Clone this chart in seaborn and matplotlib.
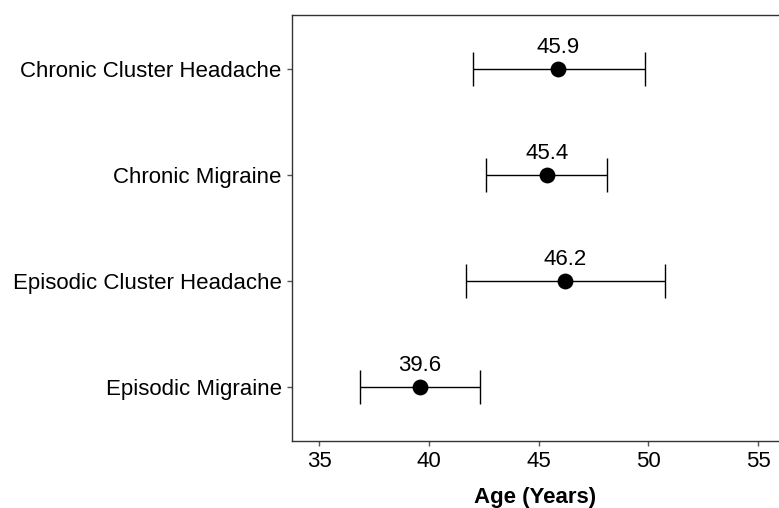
import matplotlib
matplotlib.use("Agg")
import matplotlib.pyplot as plt
import seaborn as sns
import pandas as pd

# Mean age with confidence interval per headache group
groups = ["Chronic Cluster Headache", "Chronic Migraine",
          "Episodic Cluster Headache", "Episodic Migraine"]
mean_age = [45.9, 45.4, 46.2, 39.6]
ci_low = [42.03, 42.59, 41.68, 36.87]
ci_high = [49.85, 48.11, 50.76, 42.31]
x_ticks = [35, 40, 45, 50, 55]

df = pd.DataFrame({"group": groups, "age": mean_age,
                   "low": ci_low, "high": ci_high})

sns.set_style("white")
plt.rcParams["font.family"] = ["Liberation Sans", "DejaVu Sans"]

fig = plt.figure(figsize=(7.79, 5.08), dpi=100)
ax = fig.add_axes([292 / 779, 1 - 440.7 / 508, 1 - 292 / 779, (440.7 - 15) / 508])

ypos = list(range(len(groups)))
ax.errorbar(df["age"], ypos,
            xerr=[df["age"] - df["low"], df["high"] - df["age"]],
            fmt="none", ecolor="black", elinewidth=1.0, capsize=12,
            capthick=1.0, zorder=2)
sns.scatterplot(data=df, x="age", y=ypos, ax=ax, color="black",
                s=130, edgecolor="black", linewidth=0, zorder=3, legend=False)

for yi, v in zip(ypos, mean_age):
    ax.annotate(f"{v:.1f}", (v, yi), xytext=(0, 11.5), textcoords="offset points",
                ha="center", va="baseline", fontsize=16, color="black")

ax.set_xlim(33.76, 55.96)
ax.set_ylim(3.51, -0.51)
ax.set_xticks(x_ticks)
ax.set_xticklabels([str(t) for t in x_ticks])
ax.set_yticks(ypos)
ax.set_yticklabels(groups)
ax.set_xlabel("Age (Years)", fontsize=16, fontweight="bold", labelpad=11,
              color="black")
ax.set_ylabel("")

for side in ["left", "bottom", "top"]:
    ax.spines[side].set_color("#333333")
    ax.spines[side].set_linewidth(1.0)
ax.spines["right"].set_visible(False)

ax.tick_params(axis="both", which="major", labelsize=16, color="#555555",
               direction="out", length=3.5, width=1.0, left=True, bottom=True,
               labelcolor="black", pad=4)

fig.savefig("out.png", dpi=100)
